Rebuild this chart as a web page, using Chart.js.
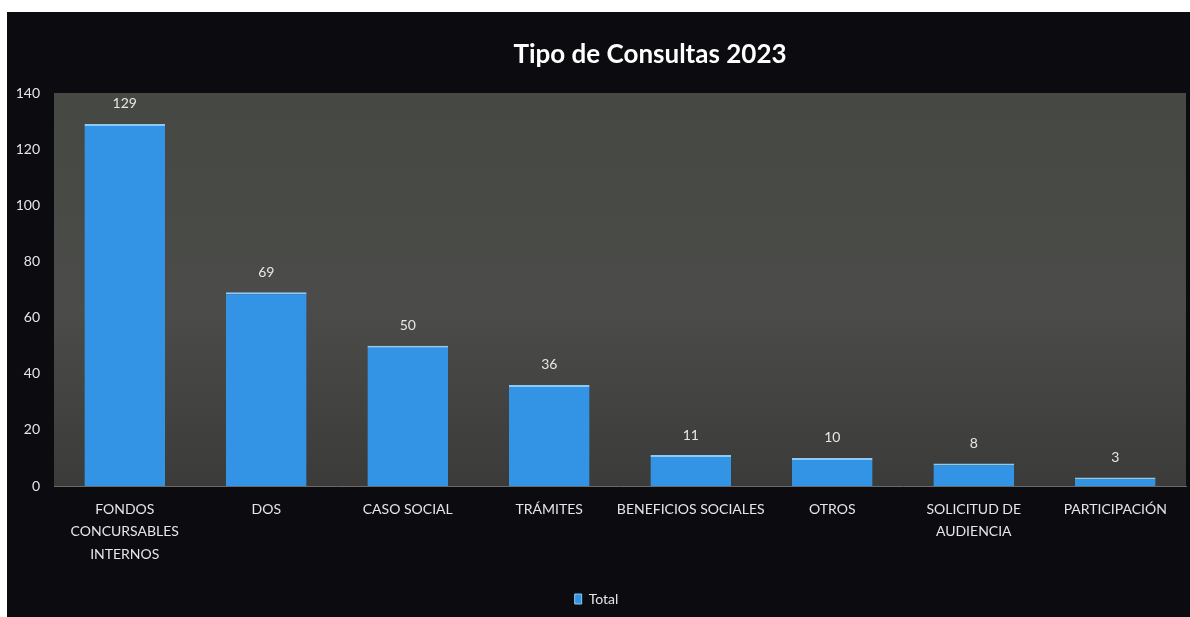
<!DOCTYPE html>
<html>
<head>
<meta charset="utf-8">
<script src="https://cdn.jsdelivr.net/npm/chart.js@4/dist/chart.umd.min.js"></script>
<style>
  html, body { margin: 0; padding: 0; background: #ffffff; width: 1190px; height: 617px; overflow: hidden; }
  #wrap { position: absolute; left: 7px; top: 12px; width: 1183px; height: 605px; background: #0b0b10; }
  canvas { display: block; }
</style>
</head>
<body>
<div id="wrap"><canvas id="c" width="1183" height="605"></canvas></div>
<script>
const chartTitle = "Tipo de Consultas 2023";
const categories = [
  ["FONDOS", "CONCURSABLES", "INTERNOS"],
  "DOS",
  "CASO SOCIAL",
  "TRÁMITES",
  "BENEFICIOS SOCIALES",
  "OTROS",
  ["SOLICITUD DE", "AUDIENCIA"],
  "PARTICIPACIÓN"
];
const seriesName = "Total";
const totals = [129, 69, 50, 36, 11, 10, 8, 3];
const yTicks = [0, 20, 40, 60, 80, 100, 120, 140];

const FONT = "Lato, 'Open Sans', 'DejaVu Sans', sans-serif";

const plotBg = {
  id: 'plotBg',
  beforeDraw(chart) {
    const { ctx, chartArea: a } = chart;
    const g = ctx.createLinearGradient(0, a.top, 0, a.bottom);
    g.addColorStop(0, '#454843');
    g.addColorStop(0.55, '#4b4c49');
    g.addColorStop(1, '#3b3c3a');
    ctx.save();
    ctx.fillStyle = g;
    ctx.fillRect(a.left, a.top, a.right - a.left, a.bottom - a.top);
    ctx.restore();
  }
};

const valueLabels = {
  id: 'valueLabels',
  afterDatasetsDraw(chart) {
    const { ctx } = chart;
    const meta = chart.getDatasetMeta(0);
    ctx.save();
    ctx.fillStyle = '#e6e6e6';
    ctx.font = "14px " + FONT;
    ctx.textAlign = 'center';
    ctx.textBaseline = 'middle';
    meta.data.forEach((bar, i) => {
      ctx.fillText(String(chart.data.datasets[0].data[i]), bar.x, bar.y - 20);
    });
    ctx.restore();
  }
};

const titleDraw = {
  id: 'titleDraw',
  afterDraw(chart) {
    const { ctx } = chart;
    ctx.save();
    ctx.fillStyle = '#ffffff';
    ctx.font = "bold 26px " + FONT;
    ctx.textAlign = 'center';
    ctx.textBaseline = 'middle';
    ctx.fillText(chartTitle, 643, 43);
    ctx.restore();
  }
};

new Chart(document.getElementById('c'), {
  type: 'bar',
  data: {
    labels: categories,
    datasets: [{
      label: seriesName,
      data: totals,
      backgroundColor: '#3393e4',
      borderColor: '#8ccaf6',
      borderWidth: { top: 2, left: 0, right: 0, bottom: 0 },
      borderSkipped: 'bottom',
      categoryPercentage: 1.0,
      barPercentage: 0.57
    }]
  },
  options: {
    responsive: false,
    animation: false,
    layout: { padding: { top: 81, right: 4, left: 0, bottom: 1 } },
    plugins: {
      title: { display: false },
      tooltip: { enabled: false },
      legend: {
        display: true,
        position: 'bottom',
        labels: {
          color: '#e6e6e6',
          font: { family: FONT, size: 14 },
          boxWidth: 7,
          boxHeight: 10,
          padding: 4,
          generateLabels(chart) {
            return [{
              text: seriesName,
              fillStyle: '#3393e4',
              strokeStyle: '#8ccaf6',
              lineWidth: 1,
              fontColor: '#e6e6e6',
              datasetIndex: 0
            }];
          }
        }
      }
    },
    scales: {
      x: {
        grid: { display: false, drawTicks: false },
        border: { display: true, color: '#6a6a68', width: 1 },
        ticks: {
          color: '#e6e6e6',
          font: { family: FONT, size: 14, lineHeight: 1.6 },
          padding: 12,
          maxRotation: 0,
          autoSkip: false
        },
        afterFit(scale) { scale.height = 102; }
      },
      y: {
        min: 0,
        max: 140,
        afterBuildTicks(scale) { scale.ticks = yTicks.map(v => ({ value: v })); },
        grid: { display: false, drawTicks: false },
        border: { display: false },
        ticks: {
          color: '#e6e6e6',
          font: { family: FONT, size: 14 },
          padding: 14
        },
        afterFit(scale) { scale.width = 47; }
      }
    }
  },
  plugins: [plotBg, valueLabels, titleDraw]
});
</script>
</body>
</html>
